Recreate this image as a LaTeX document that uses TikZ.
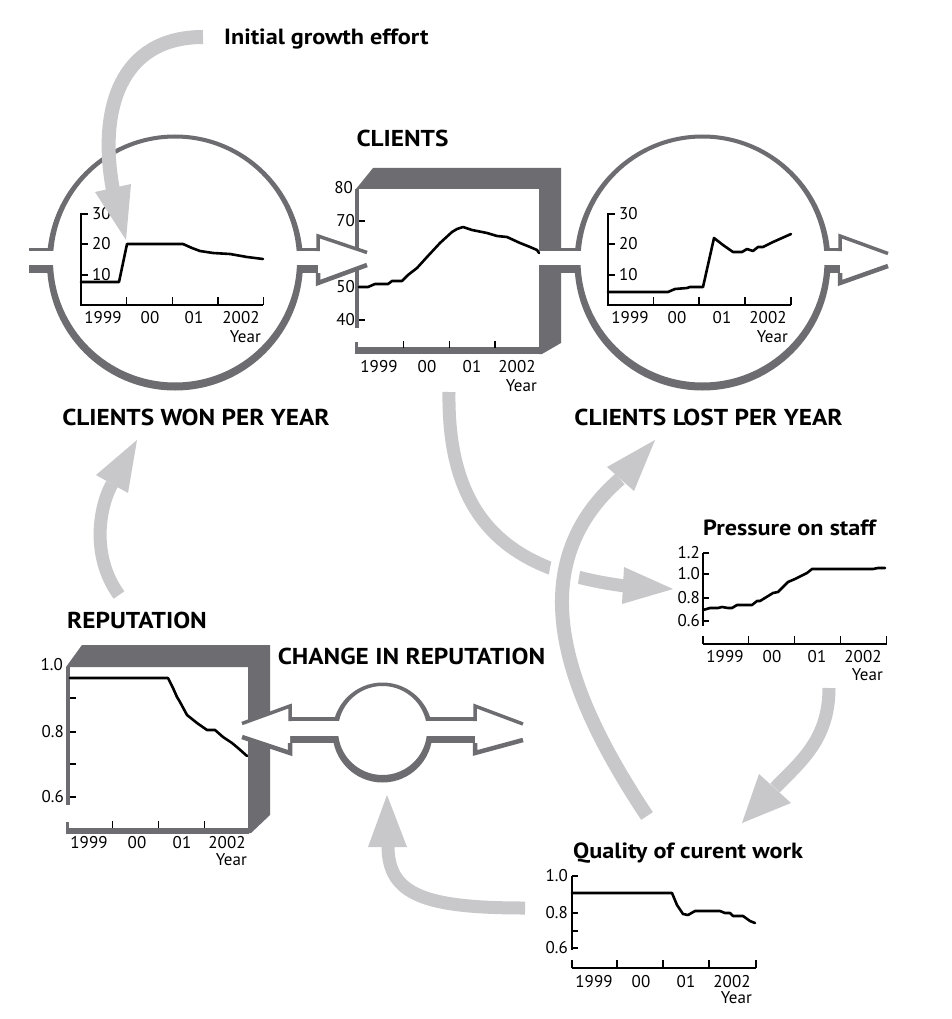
\documentclass[tikz,border=0pt]{standalone}
\usepackage{fontspec}
\setmainfont{PT Sans}
\newfontfamily\ttlfont[FakeStretch=1.1]{PT Sans}
\definecolor{dg}{RGB}{108,108,113}
\definecolor{lg}{RGB}{200,200,203}
\begin{document}
\begin{tikzpicture}[x=1pt,y=-1pt,
  axis/.style={line width=1.3pt},
  crv/.style={line width=2.6pt, line join=round, line cap=round},
  num/.style={font=\fontsize{17}{17}\selectfont, inner sep=0pt},
  ttl/.style={font=\ttlfont\fontsize{23}{23}\selectfont\bfseries, inner sep=0pt},
  sub/.style={font=\ttlfont\fontsize{22}{22}\selectfont\bfseries, inner sep=0pt},
  lga/.style={draw=lg, line width=14pt},
  lgawhite/.style={draw=white, line width=30pt},
  pipetop/.style={draw=dg, line width=3pt},
  pipebot/.style={draw=dg, line width=8pt},
  hdtop/.style={draw=dg, line width=3.5pt, line join=miter},
  hdbot/.style={draw=dg, line width=4.5pt, line join=miter},
]
\useasboundingbox (0,0) rectangle (951,1019);
\fill[white] (0,0) rectangle (951,1019);

% ---------- rings (flow valves) ----------
\fill[dg, even odd rule] (175,262.5) circle[radius=128pt] (175,260.5) circle[radius=122pt];
\fill[dg, even odd rule] (702.5,262.5) circle[radius=128pt] (702.5,260.5) circle[radius=122pt];
\fill[dg, even odd rule] (382.5,732.5) circle[radius=50pt] (382.5,730.5) circle[radius=44.5pt];
% gaps where the pipes enter
\fill[white] (42,251) rectangle (58,265);
\fill[white] (292,251) rectangle (308,265);
\fill[white] (569,251) rectangle (586,265);
\fill[white] (819,251) rectangle (835,265);
\fill[white] (328,721) rectangle (342,736);
\fill[white] (423,721) rectangle (437,736);

% ---------- pipes ----------
\draw[pipetop] (29,249.5) -- (49,249.5);
\draw[pipebot] (29,269) -- (50,269);
\draw[pipetop] (300,249.5) -- (318,249.5);
\draw[pipebot] (299,269) -- (318,269);
\draw[pipetop] (555,249.5) -- (577,249.5);
\draw[pipebot] (555,269) -- (578,269);
\draw[pipetop] (828,249.5) -- (840,249.5);
\draw[pipebot] (827,269) -- (840,269);
\draw[draw=dg, line width=3.5pt] (290,719) -- (337,719);
\draw[draw=dg, line width=7pt] (290,739.5) -- (338,739.5);
\draw[draw=dg, line width=3.5pt] (428,719) -- (475,719);
\draw[draw=dg, line width=7pt] (427,739.5) -- (475,739.5);

% ---------- stock box CLIENTS ----------
\fill[dg] (356,189) -- (373,168) -- (561,168) -- (561,343) -- (542,354) -- (539,354) -- (539,189) -- cycle;
\draw[dg, line width=4pt] (357,189) -- (357,328);
\draw[dg, line width=7pt] (355,350.5) -- (540,350.5);
\draw[dg, line width=3pt] (356.5,350) -- (356.5,342);
\fill[white] (539,251) rectangle (562,265);
\draw[pipetop] (539,249.5) -- (562,249.5);

% ---------- stock box REPUTATION ----------
\fill[dg] (66,667) -- (82,645) -- (270,645) -- (270,815) -- (251,833) -- (248,833) -- (248,667) -- cycle;
\draw[dg, line width=4pt] (68,667) -- (68,805);
\draw[dg, line width=6pt] (66,830.5) -- (249,830.5);
\draw[dg, line width=3pt] (67.5,830) -- (67.5,822);

% ---------- hollow flow heads ----------
\fill[white] (318,251) -- (318,236) -- (367,252.5) -- (367,265) -- (318,283) -- (318,267) -- cycle;
\draw[hdtop] (318,251) -- (318,236) -- (367,252.5);
\draw[hdbot] (367,265) -- (318,283) -- (318,273);
\fill[white] (840,251) -- (840,236) -- (888,253.5) -- (888,266) -- (840,283) -- (840,267) -- cycle;
\draw[hdtop] (840,251) -- (840,236) -- (888,253.5);
\draw[hdbot] (888,266) -- (840,283) -- (840,273);
\fill[white] (290,721) -- (290,706) -- (242,723.5) -- (242,737) -- (290,753) -- (290,736) -- cycle;
\draw[hdtop] (290,721) -- (290,706) -- (242,723.5);
\draw[hdbot] (242,737) -- (290,753) -- (290,743);
\fill[white] (475,721) -- (475,706) -- (523,724) -- (523,740) -- (475,753) -- (475,736) -- cycle;
\draw[hdtop] (475,721) -- (475,706) -- (523,724);
\draw[hdbot] (523,740) -- (475,753) -- (475,743);

% ---------- chart: clients won ----------
\draw[axis] (81,213) -- (81,305) -- (263.3,305);
\foreach \yy in {214,244,275} \draw[axis] (81,\yy) -- (88,\yy);
\foreach \xx in {126.7,172.4,218.1,263.3} \draw[axis] (\xx,297) -- (\xx,305);
\draw[crv] (81,282) -- (119,282) -- (127,244) -- (183,244) -- (192,248) -- (200,251) -- (213,253) -- (230,254) -- (247,257) -- (263,259);
\node[num, anchor=west] (w30) at (92,214) {30};
\node[num, anchor=west] (w20) at (92,244) {20};
\node[num, anchor=west] (w10) at (92,275) {10};
\node[num, anchor=base] (wx1) at (103,323) {1999};
\node[num, anchor=base] (wx2) at (150,323) {00};
\node[num, anchor=base] (wx3) at (194,323) {01};
\node[num, anchor=base] (wx4) at (241,323) {2002};
\node[num, anchor=base east] (wyr) at (261,342) {Year};

% ---------- chart: clients lost ----------
\draw[axis] (608,213) -- (608,305) -- (791,305);
\foreach \yy in {214,244,275} \draw[axis] (608,\yy) -- (615,\yy);
\foreach \xx in {653.5,699,745,791} \draw[axis] (\xx,297) -- (\xx,305);
\draw[crv] (608,292) -- (668,292) -- (675,289) -- (687,288) -- (690,287) -- (703,287) -- (714,238) -- (723,245) -- (733,252) -- (742,252) -- (747,249) -- (753,251) -- (758,247) -- (763,247) -- (773,242) -- (791,234);
\node[num, anchor=west] (l30) at (619,214) {30};
\node[num, anchor=west] (l20) at (619,244) {20};
\node[num, anchor=west] (l10) at (619,275) {10};
\node[num, anchor=base] (lx1) at (630,323) {1999};
\node[num, anchor=base] (lx2) at (677,323) {00};
\node[num, anchor=base] (lx3) at (722,323) {01};
\node[num, anchor=base] (lx4) at (768,323) {2002};
\node[num, anchor=base east] (lyr) at (788,342) {Year};

% ---------- chart: clients ----------
\foreach \yy in {221,287,320} \draw[axis] (359,\yy) -- (365,\yy);
\foreach \xx in {403.7,449.4,495} \draw[axis] (\xx,341) -- (\xx,348);
\draw[crv] (359,287) -- (368,287) -- (375,284) -- (388,284) -- (392,281) -- (402,281) -- (408,275) -- (417,268) -- (427,257) -- (440,243) -- (452,232) -- (457,229) -- (463,227) -- (472,230) -- (487,233) -- (497,236) -- (507,237) -- (520,243) -- (530,247) -- (537,250) -- (539,253);
\node[num, anchor=east] (c80) at (353,188) {80};
\node[num, anchor=east] (c70) at (355,221) {70};
\node[num, anchor=east] (c50) at (355,287) {50};
\node[num, anchor=east] (c40) at (355,320) {40};
\node[num, anchor=base] (cx1) at (379,372) {1999};
\node[num, anchor=base] (cx2) at (427,372) {00};
\node[num, anchor=base] (cx3) at (472,372) {01};
\node[num, anchor=base] (cx4) at (517,372) {2002};
\node[num, anchor=base east] (cyr) at (537,391) {Year};

% ---------- chart: reputation ----------
\foreach \yy in {698,732,764,797} \draw[axis] (70,\yy) -- (76,\yy);
\foreach \xx in {112.7,158.3,204.3} \draw[axis] (\xx,821) -- (\xx,828);
\draw[crv] (70,678) -- (168,678) -- (173,688) -- (177,697) -- (180,702) -- (187,715) -- (197,723) -- (207,730) -- (215,730) -- (223,737) -- (232,743) -- (238,748) -- (247,756);
\node[num, anchor=east] (r10) at (63,665) {1.0};
\node[num, anchor=east] (r08) at (64,732) {0.8};
\node[num, anchor=east] (r06) at (64,797) {0.6};
\node[num, anchor=base] (rx1) at (89,848) {1999};
\node[num, anchor=base] (rx2) at (137,848) {00};
\node[num, anchor=base] (rx3) at (182,848) {01};
\node[num, anchor=base] (rx4) at (227,848) {2002};
\node[num, anchor=base east] (ryr) at (247,865) {Year};

% ---------- chart: pressure on staff ----------
\draw[axis] (703,553) -- (703,626);
\foreach \yy in {553,574,598,621} \draw[axis] (703,\yy) -- (709,\yy);
\draw[axis] (703,644) -- (886.7,644);
\foreach \xx in {703,748.7,794.5,840.2,886.7} \draw[axis] (\xx,636) -- (\xx,644);
\draw[crv] (703,610) -- (710,608) -- (718,608) -- (722,607) -- (728,608) -- (732,608) -- (737,605) -- (752,605) -- (757,601) -- (760,601) -- (773,593) -- (778,592) -- (788,582) -- (795,579) -- (807,573) -- (812,569) -- (873,569) -- (878,568) -- (885,568);
\node[num, anchor=east] (p12) at (700,553) {1.2};
\node[num, anchor=east] (p10) at (700,574) {1.0};
\node[num, anchor=east] (p08) at (700,598) {0.8};
\node[num, anchor=east] (p06) at (700,621) {0.6};
\node[num, anchor=base] (px1) at (725,662) {1999};
\node[num, anchor=base] (px2) at (772,662) {00};
\node[num, anchor=base] (px3) at (817,662) {01};
\node[num, anchor=base] (px4) at (863,662) {2002};
\node[num, anchor=base east] (pyr) at (883,680) {Year};

% ---------- chart: quality of current work ----------
\draw[axis] (572,876) -- (572,950);
\foreach \yy in {876,913,931,948} \draw[axis] (572,\yy) -- (578,\yy);
\draw[axis] (572,968) -- (756,968);
\foreach \xx in {572,617,663,709,756} \draw[axis] (\xx,960) -- (\xx,968);
\draw[crv] (572,893) -- (672,893) -- (677,905) -- (683,914) -- (688,915) -- (695,911) -- (720,911) -- (725,913) -- (730,913) -- (733,916) -- (743,916) -- (750,921) -- (755,923);
\node[num, anchor=east] (q10) at (568,876) {1.0};
\node[num, anchor=east] (q08) at (568,913) {0.8};
\node[num, anchor=east] (q06) at (568,948) {0.6};
\node[num, anchor=base] (qx1) at (594,987) {1999};
\node[num, anchor=base] (qx2) at (641,987) {00};
\node[num, anchor=base] (qx3) at (686,987) {01};
\node[num, anchor=base] (qx4) at (732,987) {2002};
\node[num, anchor=base east] (qyr) at (752,1003) {Year};

% ---------- titles ----------
\node[ttl] (won) at (196,417) {CLIENTS WON PER YEAR};
\node[ttl] (lost) at (708.5,417) {CLIENTS LOST PER YEAR};
\node[ttl] (clients) at (402.5,138.5) {CLIENTS};
\node[ttl] (rep) at (137,620) {REPUTATION};
\node[ttl] (chg) at (411.5,656) {CHANGE IN REPUTATION};
\node[sub, anchor=base west] (init) at (224,45) {Initial growth effort};
\node[sub, anchor=base west] (press) at (703,535) {Pressure on staff};
\node[sub, anchor=base west] (qual) at (573,858) {Quality of curent work};

% ---------- causal (light grey) arrows ----------
\coordinate (a1s) at (203,37);  \coordinate (a1e) at (113,190);
\coordinate (a2s) at (119,595); \coordinate (a2e) at (112,484);
\coordinate (a3s) at (449,392); \coordinate (a3e) at (625,586);
\coordinate (a4s) at (829,688); \coordinate (a4e) at (775,788);
\coordinate (a5s) at (647,816); \coordinate (a5e) at (620,479);
\coordinate (a6s) at (525,908); \coordinate (a6e) at (388,846);

\draw[lga] (a1s) .. controls (120,37) and (98,110) .. (a1e);
\fill[lg] (95,192) -- (126,240) -- (131,184) -- cycle;

\draw[lga, line width=13pt] (a2s) .. controls (90,555) and (100,505) .. (a2e);
\fill[lg] (96,475) -- (137,440) -- (128,493) -- cycle;

\draw[lga, line width=13pt] (a3s) .. controls (447,530) and (520,572) .. (a3e);
\fill[lg] (624,567) -- (673,589) -- (622,604) -- cycle;

\draw[lga, line width=13pt] (a4s) .. controls (829,740) and (800,762) .. (a4e);
\fill[lg] (759,774) -- (742,823) -- (791,803) -- cycle;

\draw[lgawhite] (a5s) .. controls (570,700) and (515,570) .. (a5e);
\draw[lga] (a5s) .. controls (570,700) and (515,570) .. (a5e);
\fill[lg] (607,467) -- (655,440) -- (634,491) -- cycle;

\draw[lga, line width=13pt] (a6s) .. controls (425,908) and (388,895) .. (a6e);
\fill[lg] (368,847) -- (387,795) -- (407,847) -- cycle;
\end{tikzpicture}
\end{document}
